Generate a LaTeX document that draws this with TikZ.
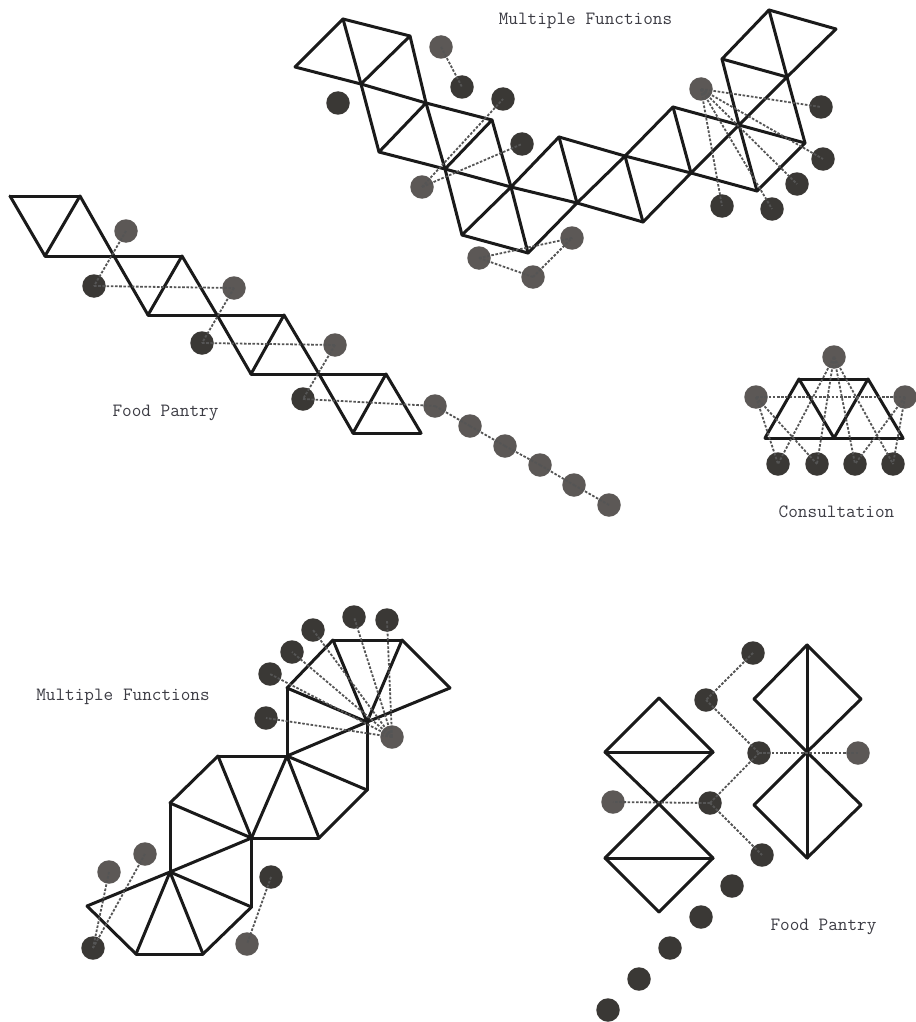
\documentclass[tikz,border=0pt]{standalone}
\definecolor{edgeink}{HTML}{1A1A1A}
\definecolor{darkdot}{HTML}{3A3835}
\definecolor{greydot}{HTML}{5C5856}
\definecolor{linkink}{HTML}{555555}
\definecolor{labelink}{HTML}{3C3C44}
\tikzset{
  edge/.style={draw=edgeink,line width=3pt,line cap=round,line join=round},
  link/.style={draw=linkink,line width=1.8pt,dash pattern=on 2.6pt off 1.6pt},
  dot/.style={circle,minimum size=23.5pt,inner sep=0pt,draw=none},
  darkd/.style={dot,fill=darkdot},
  greyd/.style={dot,fill=greydot},
  lab/.style={font=\ttfamily\fontsize{18.7}{20}\selectfont,text=labelink,inner sep=0pt}
}
\begin{document}
\begin{tikzpicture}[x=1pt,y=-1pt]
\useasboundingbox (0,0) rectangle (915,1022);
% vertices
\foreach \n/\x/\y in {ta/295/67,tb/343/19,tc/410/36,td/361/84,te/426/103,tf/492/120,tg/379/152,th/445/169,ti/511/187,tj/559/137,tk/577/203,tl/462/235,tm/528/253,tn/625/156,to/673/107,tp/643/222,tq/691/173,tr/757/191,ts/805/143,tt/739/125,tu/722/59,tv/787/77,tw/769/10,tx/836/29,
 fa/10/196,fb/80/196,fc/45/256,fd/114/256,fe/182/256,ff/148/315,fg/217/315,fh/284/315,fi/251/374,fj/319/374,fk/386/374,fl/353/433,fm/421/433,
 ca/799/379,cb/868/379,cc/765/438,cd/834/438,ce/903/438,
 ba/333/640,bb/402/640,bc/450/688,bd/287/688,be/367/722,bf/287/756,bg/218/756,bh/170/803,bi/251.5/838,bj/319/838,bk/367/790,bl/170/872,bm/251.5/907,bn/87/906,bo/136/954,bp/203/954,
 ra/659/698,rb/605/752,rc/713/752,rd/659/804,re/605/858,rf/713/858,rg/659/912,
 sa/807/645,sb/754/699,sc/861/699,sd/807/752,se/754/805,sf/861/805,sg/807/858}
  {\coordinate (\n) at (\x,\y);}
% edges
\foreach \a/\b in {ta/tb,tb/tc,ta/td,td/te,te/tf,tb/td,td/tc,tc/te,te/th,th/tl,td/tg,tg/te,tg/th,th/ti,ti/tk,tk/tp,tf/th,tf/ti,ti/tm,tl/tm,ti/tl,ti/tj,tm/tk,tj/tk,tj/tn,tn/tq,tq/tr,tk/tn,tn/tp,tn/to,to/tq,tq/tp,tq/tt,tt/tv,tv/tx,to/tt,tt/ts,tt/tr,tr/ts,tu/tt,tv/ts,tu/tv,tu/tw,tw/tv,tw/tx,
 fa/fb,fa/fc,fc/fb,fb/fd,fd/ff,fc/fd,fd/fe,fe/ff,fe/fg,fg/fi,ff/fg,fg/fh,fh/fi,fh/fj,fj/fl,fi/fj,fj/fk,fk/fl,fk/fm,fl/fm,
 ca/cb,ca/cc,ca/cd,cb/cd,cb/ce,cc/cd,cd/ce,
 be/bd,be/ba,be/bb,be/bc,be/bf,bd/ba,ba/bb,bb/bc,bd/bf,be/bk,bf/bk,bk/bj,bf/bj,bf/bg,bf/bi,bg/bi,bg/bh,bh/bi,bi/bj,bh/bl,bl/bi,bi/bm,bl/bm,bl/bn,bl/bo,bl/bp,bn/bo,bo/bp,bp/bm,
 ra/rb,ra/rc,rb/rc,rb/rd,rd/rf,rc/rd,rd/re,re/rf,re/rg,rf/rg,
 sa/sb,sa/sc,sa/sd,sd/sg,sb/sd,sd/sf,sc/sd,sd/se,se/sg,sf/sg}
  {\draw[edge] (\a) -- (\b);}
% dots
\foreach \n/\x/\y in {d1/462/87,d2/338/103,d3/503/99,d4/522/144,d5/821/107,d6/823/159,d7/797/184,d8/772/209,d9/722/206,
 e1/94/286,e2/202/343,e3/303/399,
 k1/778/464,k2/817/464,k3/855/464,k4/893/464,
 m1/266/718,m2/270/674,m3/292/652,m4/313/630,m5/354/617,m6/387/620,m7/93/948,m8/271/877,
 r1/753/653,r2/706/700,r3/759/753,r4/710/803,r5/762/855,r6/732/886,r7/701/917,r8/670/948,r9/639/979,r0/608/1010}
  {\node[darkd] (\n) at (\x,\y) {};}
\foreach \n/\x/\y in {g1/441/47,g2/422/187,g3/572/238,g4/479/258,g5/533/277,g6/701/89,
 h1/126/231,h2/234/288,h3/335/345,h4/435/406,h5/470/426,h6/505/446,h7/540/465,h8/574/485,h9/609/505,
 j1/834/357,j2/756/397,j3/905/397,
 n1/392/737,n2/145/854,n3/109/872,n4/247/944,
 q1/858/753,q2/613/802}
  {\node[greyd] (\n) at (\x,\y) {};}
% links
\foreach \a/\b in {g1/d1,g2/d3,g2/d4,g4/g5,g4/g3,g5/g3,g6/d5,g6/d6,g6/d7,g6/d8,g6/d9,
 h1/e1,e1/h2,h2/e2,e2/h3,h3/e3,e3/h4,h4/h5,h5/h6,h6/h7,h7/h8,h8/h9,
 j1/k1,j1/k2,j1/k3,j1/k4,j2/j3,j2/k1,j2/k2,j3/k3,j3/k4,
 n1/m1,n1/m2,n1/m3,n1/m4,n1/m5,n1/m6,n2/m7,n3/m7,m8/n4,
 r1/r2,r2/r3,r3/q1,r3/r4,r4/q2,r4/r5}
  {\draw[link] (\a.center) -- (\b.center);}
% labels
\node[lab] (l1) at (585.5,21) {Multiple Functions};
\node[lab] (l2) at (165.5,413) {Food Pantry};
\node[lab] (l3) at (836.5,511.5) {Consultation};
\node[lab] (l4) at (123,697) {Multiple Functions};
\node[lab] (l5) at (823.5,927) {Food Pantry};
\end{tikzpicture}
\end{document}
